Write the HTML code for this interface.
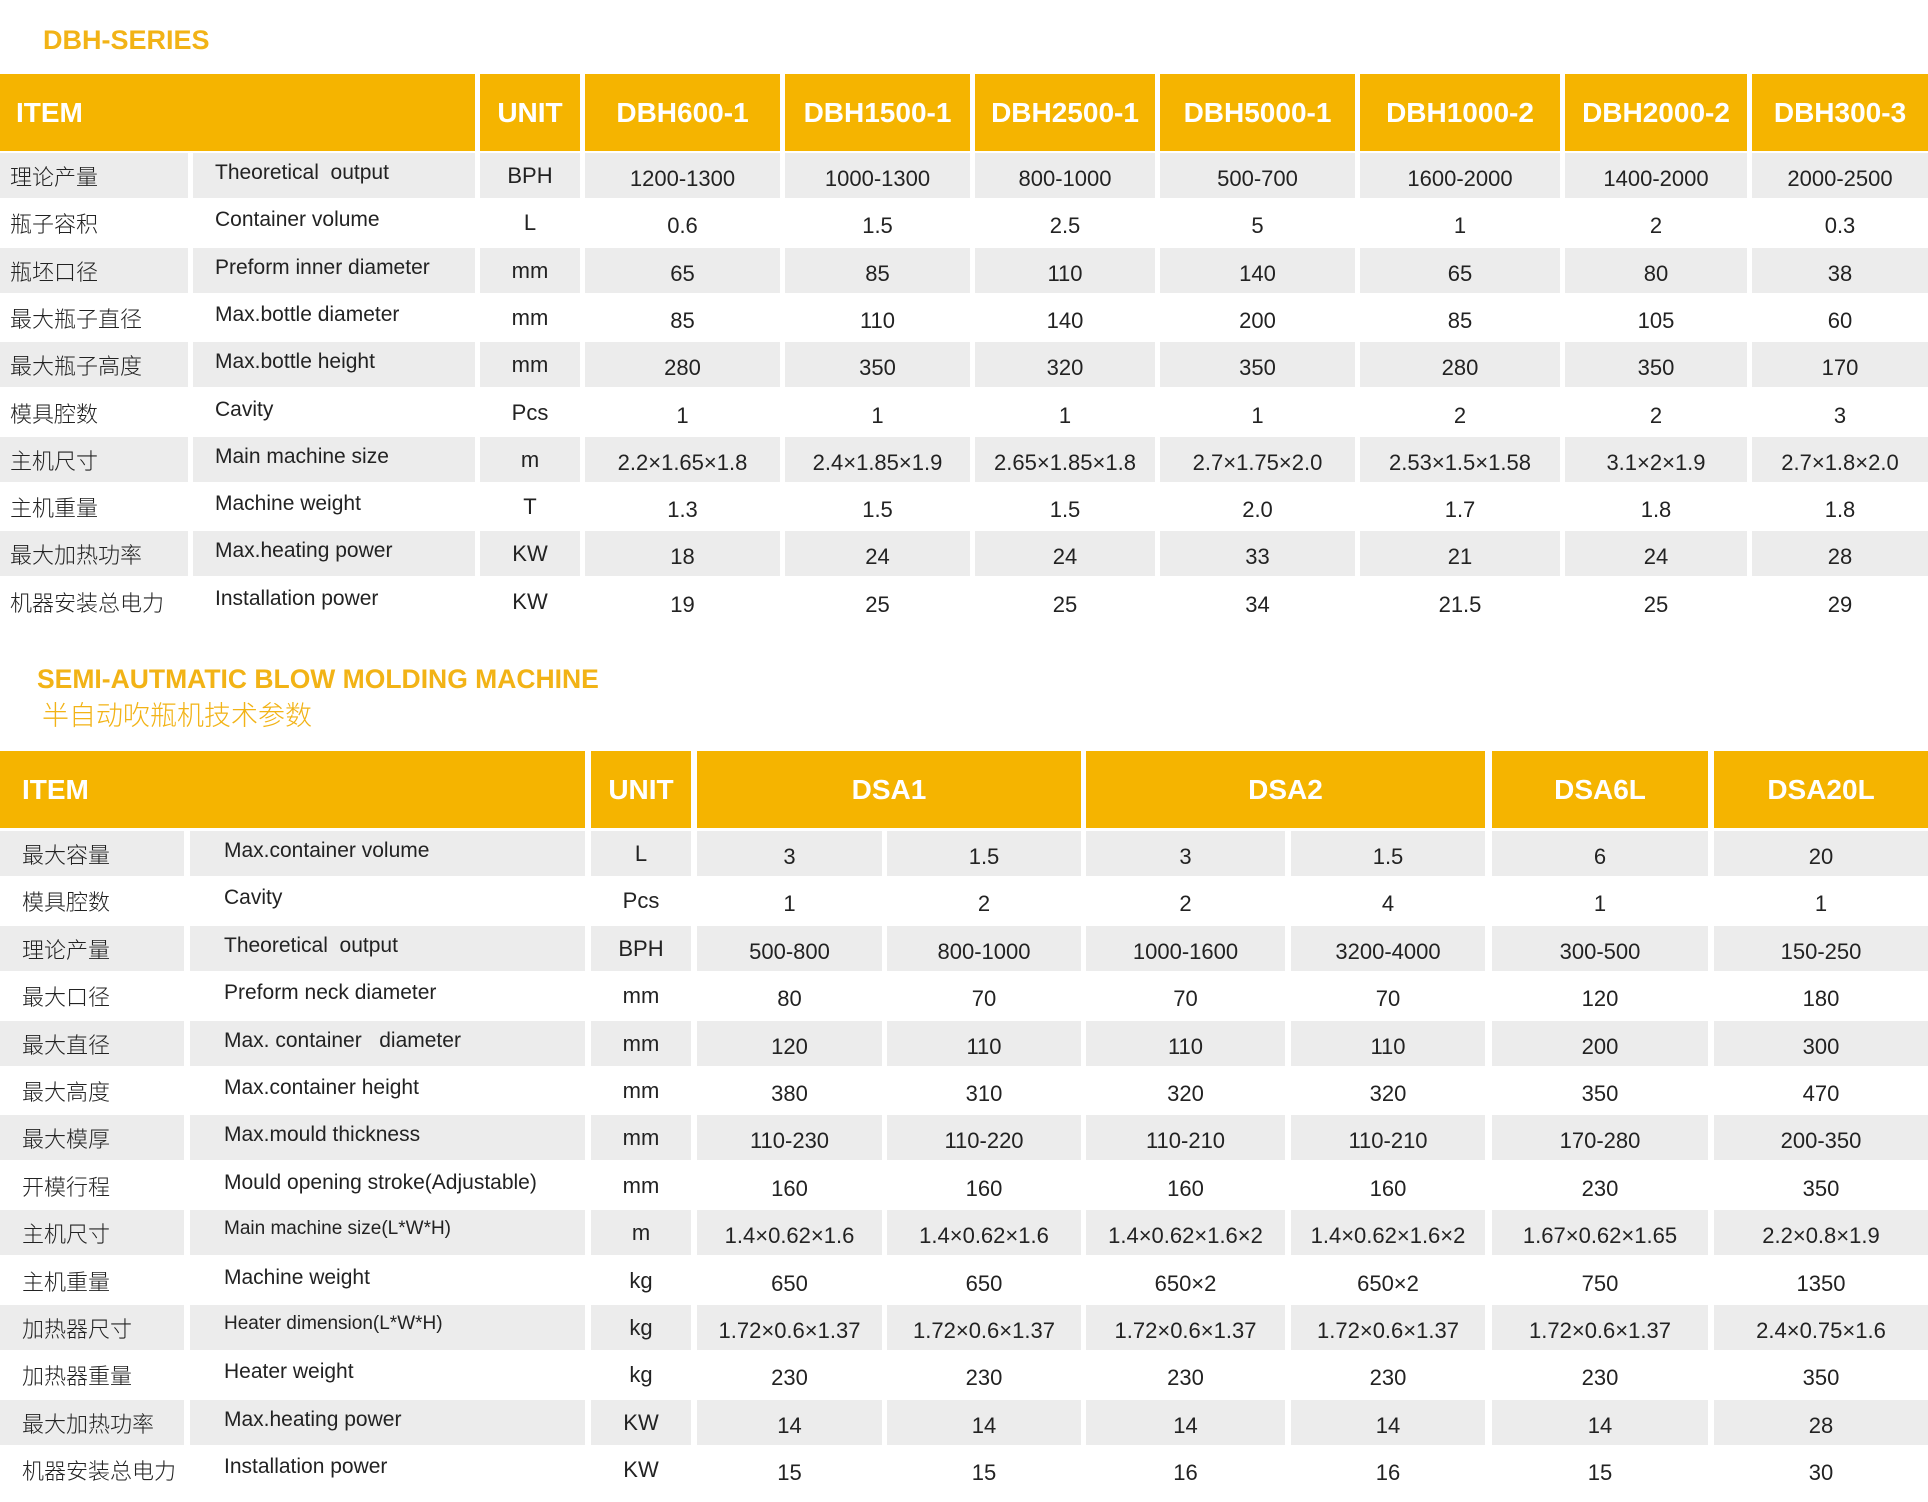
<!DOCTYPE html>
<html><head><meta charset="utf-8">
<style>
body{margin:0;width:1928px;height:1502px;background:#fff;position:relative;overflow:hidden;font-family:"Liberation Sans","Noto Sans CJK SC",sans-serif;}
.t{position:absolute;color:#f2b316;font-weight:bold;}
.r{position:absolute;left:0;width:1928px;height:45px;}
.h{height:77px;}
.c{position:absolute;top:0;height:100%;display:flex;align-items:center;justify-content:center;font-size:22px;color:#222;white-space:nowrap;}
.g .c{background:#ececec;}
.h .c{background:#f5b400;color:#fff;font-weight:bold;font-size:28px;}
.l{justify-content:flex-start;}
.zh{font-size:22px;padding-left:10px;box-sizing:border-box;font-family:"Noto Sans CJK SC","WenQuanYi Zen Hei",sans-serif;font-weight:300;}
.en{padding-left:22px;box-sizing:border-box;align-items:flex-start;padding-top:8px;font-size:21px;}
.n{padding-top:6px;box-sizing:border-box;}
.a0{left:0;width:188px}.a1{left:193px;width:282px}.a2{left:480px;width:100px}.a3{left:585px;width:195px}.a4{left:785px;width:185px}.a5{left:975px;width:180px}.a6{left:1160px;width:195px}.a7{left:1360px;width:200px}.a8{left:1565px;width:182px}.a9{left:1752px;width:176px}
.a01{left:0;width:475px}
.b0{left:0;width:184px}.b1{left:190px;width:395px}.b2{left:591px;width:100px}.b3{left:697px;width:185px}.b4{left:887px;width:194px}.b5{left:1086px;width:199px}.b6{left:1291px;width:194px}.b7{left:1492px;width:216px}.b8{left:1714px;width:214px}
.b01{left:0;width:585px}.b34{left:697px;width:384px}.b56{left:1086px;width:399px}
.B .zh{padding-left:22px}.B .en{padding-left:34px}
</style></head><body>
<div class="t" style="left:43px;top:25px;font-size:27px">DBH-SERIES</div>

<div class="r h" style="top:74px">
<div class="c l a01" style="padding-left:16px;box-sizing:border-box">ITEM</div><div class="c a2">UNIT</div><div class="c a3">DBH600-1</div><div class="c a4">DBH1500-1</div><div class="c a5">DBH2500-1</div><div class="c a6">DBH5000-1</div><div class="c a7">DBH1000-2</div><div class="c a8">DBH2000-2</div><div class="c a9">DBH300-3</div></div>

<div class="r g" style="top:153px"><div class="c l zh a0">理论产量</div><div class="c l en a1">Theoretical&nbsp; output</div><div class="c a2">BPH</div><div class="c n a3">1200-1300</div><div class="c n a4">1000-1300</div><div class="c n a5">800-1000</div><div class="c n a6">500-700</div><div class="c n a7">1600-2000</div><div class="c n a8">1400-2000</div><div class="c n a9">2000-2500</div></div>
<div class="r" style="top:200px"><div class="c l zh a0">瓶子容积</div><div class="c l en a1">Container volume</div><div class="c a2">L</div><div class="c n a3">0.6</div><div class="c n a4">1.5</div><div class="c n a5">2.5</div><div class="c n a6">5</div><div class="c n a7">1</div><div class="c n a8">2</div><div class="c n a9">0.3</div></div>
<div class="r g" style="top:248px"><div class="c l zh a0">瓶坯口径</div><div class="c l en a1">Preform inner diameter</div><div class="c a2">mm</div><div class="c n a3">65</div><div class="c n a4">85</div><div class="c n a5">110</div><div class="c n a6">140</div><div class="c n a7">65</div><div class="c n a8">80</div><div class="c n a9">38</div></div>
<div class="r" style="top:295px"><div class="c l zh a0">最大瓶子直径</div><div class="c l en a1">Max.bottle diameter</div><div class="c a2">mm</div><div class="c n a3">85</div><div class="c n a4">110</div><div class="c n a5">140</div><div class="c n a6">200</div><div class="c n a7">85</div><div class="c n a8">105</div><div class="c n a9">60</div></div>
<div class="r g" style="top:342px"><div class="c l zh a0">最大瓶子高度</div><div class="c l en a1">Max.bottle height</div><div class="c a2">mm</div><div class="c n a3">280</div><div class="c n a4">350</div><div class="c n a5">320</div><div class="c n a6">350</div><div class="c n a7">280</div><div class="c n a8">350</div><div class="c n a9">170</div></div>
<div class="r" style="top:390px"><div class="c l zh a0">模具腔数</div><div class="c l en a1">Cavity</div><div class="c a2">Pcs</div><div class="c n a3">1</div><div class="c n a4">1</div><div class="c n a5">1</div><div class="c n a6">1</div><div class="c n a7">2</div><div class="c n a8">2</div><div class="c n a9">3</div></div>
<div class="r g" style="top:437px"><div class="c l zh a0">主机尺寸</div><div class="c l en a1">Main machine size</div><div class="c a2">m</div><div class="c n a3">2.2×1.65×1.8</div><div class="c n a4">2.4×1.85×1.9</div><div class="c n a5">2.65×1.85×1.8</div><div class="c n a6">2.7×1.75×2.0</div><div class="c n a7">2.53×1.5×1.58</div><div class="c n a8">3.1×2×1.9</div><div class="c n a9">2.7×1.8×2.0</div></div>
<div class="r" style="top:484px"><div class="c l zh a0">主机重量</div><div class="c l en a1">Machine weight</div><div class="c a2">T</div><div class="c n a3">1.3</div><div class="c n a4">1.5</div><div class="c n a5">1.5</div><div class="c n a6">2.0</div><div class="c n a7">1.7</div><div class="c n a8">1.8</div><div class="c n a9">1.8</div></div>
<div class="r g" style="top:531px"><div class="c l zh a0">最大加热功率</div><div class="c l en a1">Max.heating power</div><div class="c a2">KW</div><div class="c n a3">18</div><div class="c n a4">24</div><div class="c n a5">24</div><div class="c n a6">33</div><div class="c n a7">21</div><div class="c n a8">24</div><div class="c n a9">28</div></div>
<div class="r" style="top:579px"><div class="c l zh a0">机器安装总电力</div><div class="c l en a1">Installation power</div><div class="c a2">KW</div><div class="c n a3">19</div><div class="c n a4">25</div><div class="c n a5">25</div><div class="c n a6">34</div><div class="c n a7">21.5</div><div class="c n a8">25</div><div class="c n a9">29</div></div>

<div class="t" style="left:37px;top:664px;font-size:26.5px">SEMI-AUTMATIC BLOW MOLDING MACHINE</div>
<div class="t" style="left:42px;top:694px;font-size:27px;font-weight:normal;font-family:'Noto Sans CJK SC',sans-serif;font-weight:300">半自动吹瓶机技术参数</div>

<div class="B">
<div class="r h" style="top:751px"><div class="c l b01" style="padding-left:22px;box-sizing:border-box">ITEM</div><div class="c b2">UNIT</div><div class="c b34">DSA1</div><div class="c b56">DSA2</div><div class="c b7">DSA6L</div><div class="c b8">DSA20L</div></div>

<div class="r g" style="top:831px"><div class="c l zh b0">最大容量</div><div class="c l en b1">Max.container volume</div><div class="c b2">L</div><div class="c n b3">3</div><div class="c n b4">1.5</div><div class="c n b5">3</div><div class="c n b6">1.5</div><div class="c n b7">6</div><div class="c n b8">20</div></div>
<div class="r" style="top:878px"><div class="c l zh b0">模具腔数</div><div class="c l en b1">Cavity</div><div class="c b2">Pcs</div><div class="c n b3">1</div><div class="c n b4">2</div><div class="c n b5">2</div><div class="c n b6">4</div><div class="c n b7">1</div><div class="c n b8">1</div></div>
<div class="r g" style="top:926px"><div class="c l zh b0">理论产量</div><div class="c l en b1">Theoretical&nbsp; output</div><div class="c b2">BPH</div><div class="c n b3">500-800</div><div class="c n b4">800-1000</div><div class="c n b5">1000-1600</div><div class="c n b6">3200-4000</div><div class="c n b7">300-500</div><div class="c n b8">150-250</div></div>
<div class="r" style="top:973px"><div class="c l zh b0">最大口径</div><div class="c l en b1">Preform neck diameter</div><div class="c b2">mm</div><div class="c n b3">80</div><div class="c n b4">70</div><div class="c n b5">70</div><div class="c n b6">70</div><div class="c n b7">120</div><div class="c n b8">180</div></div>
<div class="r g" style="top:1021px"><div class="c l zh b0">最大直径</div><div class="c l en b1">Max. container&nbsp;&nbsp; diameter</div><div class="c b2">mm</div><div class="c n b3">120</div><div class="c n b4">110</div><div class="c n b5">110</div><div class="c n b6">110</div><div class="c n b7">200</div><div class="c n b8">300</div></div>
<div class="r" style="top:1068px"><div class="c l zh b0">最大高度</div><div class="c l en b1">Max.container height</div><div class="c b2">mm</div><div class="c n b3">380</div><div class="c n b4">310</div><div class="c n b5">320</div><div class="c n b6">320</div><div class="c n b7">350</div><div class="c n b8">470</div></div>
<div class="r g" style="top:1115px"><div class="c l zh b0">最大模厚</div><div class="c l en b1">Max.mould thickness</div><div class="c b2">mm</div><div class="c n b3">110-230</div><div class="c n b4">110-220</div><div class="c n b5">110-210</div><div class="c n b6">110-210</div><div class="c n b7">170-280</div><div class="c n b8">200-350</div></div>
<div class="r" style="top:1163px"><div class="c l zh b0">开模行程</div><div class="c l en b1">Mould opening stroke(Adjustable)</div><div class="c b2">mm</div><div class="c n b3">160</div><div class="c n b4">160</div><div class="c n b5">160</div><div class="c n b6">160</div><div class="c n b7">230</div><div class="c n b8">350</div></div>
<div class="r g" style="top:1210px"><div class="c l zh b0">主机尺寸</div><div class="c l en b1" style="font-size:19px">Main machine size(L*W*H)</div><div class="c b2">m</div><div class="c n b3">1.4×0.62×1.6</div><div class="c n b4">1.4×0.62×1.6</div><div class="c n b5">1.4×0.62×1.6×2</div><div class="c n b6">1.4×0.62×1.6×2</div><div class="c n b7">1.67×0.62×1.65</div><div class="c n b8">2.2×0.8×1.9</div></div>
<div class="r" style="top:1258px"><div class="c l zh b0">主机重量</div><div class="c l en b1">Machine weight</div><div class="c b2">kg</div><div class="c n b3">650</div><div class="c n b4">650</div><div class="c n b5">650×2</div><div class="c n b6">650×2</div><div class="c n b7">750</div><div class="c n b8">1350</div></div>
<div class="r g" style="top:1305px"><div class="c l zh b0">加热器尺寸</div><div class="c l en b1" style="font-size:19px">Heater dimension(L*W*H)</div><div class="c b2">kg</div><div class="c n b3">1.72×0.6×1.37</div><div class="c n b4">1.72×0.6×1.37</div><div class="c n b5">1.72×0.6×1.37</div><div class="c n b6">1.72×0.6×1.37</div><div class="c n b7">1.72×0.6×1.37</div><div class="c n b8">2.4×0.75×1.6</div></div>
<div class="r" style="top:1352px"><div class="c l zh b0">加热器重量</div><div class="c l en b1">Heater weight</div><div class="c b2">kg</div><div class="c n b3">230</div><div class="c n b4">230</div><div class="c n b5">230</div><div class="c n b6">230</div><div class="c n b7">230</div><div class="c n b8">350</div></div>
<div class="r g" style="top:1400px"><div class="c l zh b0">最大加热功率</div><div class="c l en b1">Max.heating power</div><div class="c b2">KW</div><div class="c n b3">14</div><div class="c n b4">14</div><div class="c n b5">14</div><div class="c n b6">14</div><div class="c n b7">14</div><div class="c n b8">28</div></div>
<div class="r" style="top:1447px"><div class="c l zh b0">机器安装总电力</div><div class="c l en b1">Installation power</div><div class="c b2">KW</div><div class="c n b3">15</div><div class="c n b4">15</div><div class="c n b5">16</div><div class="c n b6">16</div><div class="c n b7">15</div><div class="c n b8">30</div></div>
</div>
</body></html>
